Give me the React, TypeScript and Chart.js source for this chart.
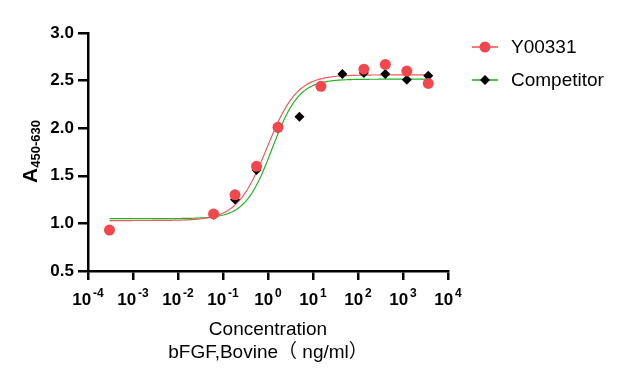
import React, { useEffect, useRef } from 'react';
import { Chart, registerables } from 'chart.js';

Chart.register(...registerables);

// ---------- data ----------
const concentrations = [0.0003, 0.0617, 0.185, 0.556, 1.67, 5, 15, 45, 135, 405, 1215, 3645];
const y00331Values: (number | null)[] = [0.93, 1.1, 1.3, 1.6, 2.01, null, 2.44, null, 2.62, 2.67, 2.6, 2.47];
const competitorValues: (number | null)[] = [null, 1.09, 1.25, 1.56, 2.0, 2.12, null, 2.57, 2.58, 2.57, 2.51, 2.55];

const seriesNames = ['Y00331', 'Competitor'];

// 4-parameter logistic fit parameters: [Y00331, Competitor]
const fitBottom = [1.03, 1.05];
const fitTop = [2.56, 2.515];
const fitEC50 = [0.95, 1.23];
const fitHill = [1.3, 1.45];
const fitRangeLog = [-3.52, 3.56];

const yTickValues = [0.5, 1.0, 1.5, 2.0, 2.5, 3.0];
const xTickExponents = [-4, -3, -2, -1, 0, 1, 2, 3, 4];
const xTitleLines = ['Concentration', 'bFGF,Bovine（ ng/ml）'];
const yTitleMain = 'A';
const yTitleSub = '450-630';

// ---------- style ----------
const FONT = '"Liberation Sans", Arial, "Noto Sans CJK SC", sans-serif';
const RED_POINT = '#f2474c';
const RED_LINE = '#f05a5a';
const GREEN_LINE = '#22b422';
const BLACK = '#000000';

function toPoints(values: (number | null)[]) {
  const out: { x: number; y: number }[] = [];
  values.forEach((v, i) => {
    if (v !== null) out.push({ x: concentrations[i], y: v });
  });
  return out;
}

function fitCurve(idx: number) {
  const pts: { x: number; y: number }[] = [];
  const n = 300;
  for (let k = 0; k <= n; k++) {
    const lx = fitRangeLog[0] + ((fitRangeLog[1] - fitRangeLog[0]) * k) / n;
    const c = Math.pow(10, lx);
    const r = Math.pow(c / fitEC50[idx], fitHill[idx]);
    const y = fitBottom[idx] + (fitTop[idx] - fitBottom[idx]) * (r / (1 + r));
    pts.push({ x: c, y });
  }
  return pts;
}

const decorPlugin = {
  id: 'decor',
  afterDraw(chart: any) {
    const ctx: CanvasRenderingContext2D = chart.ctx;
    const xs = chart.scales.x;
    const area = chart.chartArea;
    ctx.save();
    ctx.fillStyle = BLACK;

    // x tick labels 10^n
    ctx.textBaseline = 'alphabetic';
    xTickExponents.forEach((e) => {
      const px = xs.getPixelForValue(Math.pow(10, e));
      ctx.font = `bold 17px ${FONT}`;
      const base = '10';
      const w1 = ctx.measureText(base).width;
      ctx.font = `bold 12px ${FONT}`;
      const sup = String(e);
      const w2 = ctx.measureText(sup).width;
      const gap = 2;
      const total = w1 + gap + w2;
      const start = px - total / 2;
      ctx.font = `bold 17px ${FONT}`;
      ctx.textAlign = 'left';
      ctx.fillText(base, start, 305);
      ctx.font = `bold 12px ${FONT}`;
      ctx.fillText(sup, start + w1 + gap, 297);
    });

    // x title
    ctx.font = `19px ${FONT}`;
    ctx.textAlign = 'center';
    ctx.textBaseline = 'middle';
    const cx = (area.left + area.right) / 2;
    ctx.fillText(xTitleLines[0], cx, 330);
    ctx.fillText(xTitleLines[1], cx, 353);

    // y title (rotated)
    ctx.save();
    ctx.translate(37, 151.5);
    ctx.rotate(-Math.PI / 2);
    ctx.textBaseline = 'alphabetic';
    ctx.textAlign = 'left';
    ctx.font = `bold 21px ${FONT}`;
    const wa = ctx.measureText(yTitleMain).width;
    ctx.font = `bold 13px ${FONT}`;
    const ws = ctx.measureText(yTitleSub).width;
    const tot = wa + ws;
    ctx.font = `bold 21px ${FONT}`;
    ctx.fillText(yTitleMain, -tot / 2, 0);
    ctx.font = `bold 13px ${FONT}`;
    ctx.fillText(yTitleSub, -tot / 2 + wa, 3);
    ctx.restore();

    // legend
    const legendRows = [
      { y: 47, line: RED_LINE, name: seriesNames[0], marker: 'circle' },
      { y: 80, line: GREEN_LINE, name: seriesNames[1], marker: 'diamond' },
    ];
    legendRows.forEach((row) => {
      ctx.strokeStyle = row.line;
      ctx.lineWidth = 1.6;
      ctx.beginPath();
      ctx.moveTo(472, row.y);
      ctx.lineTo(498, row.y);
      ctx.stroke();
      if (row.marker === 'circle') {
        ctx.fillStyle = RED_POINT;
        ctx.beginPath();
        ctx.arc(485, row.y, 5.5, 0, Math.PI * 2);
        ctx.fill();
      } else {
        ctx.fillStyle = BLACK;
        ctx.beginPath();
        ctx.moveTo(485, row.y - 5);
        ctx.lineTo(490, row.y);
        ctx.lineTo(485, row.y + 5);
        ctx.lineTo(480, row.y);
        ctx.closePath();
        ctx.fill();
      }
      ctx.fillStyle = BLACK;
      ctx.font = `19px ${FONT}`;
      ctx.textAlign = 'left';
      ctx.textBaseline = 'middle';
      ctx.fillText(row.name, 511, row.y + 1);
    });

    ctx.restore();
  },
};

export default function App() {
  const ref = useRef<HTMLCanvasElement>(null);

  useEffect(() => {
    document.body.style.margin = '0';
    const canvas = ref.current;
    if (!canvas) return;
    const chart = new Chart(canvas, {
      type: 'scatter',
      data: {
        datasets: [
          {
            label: seriesNames[0],
            data: toPoints(y00331Values),
            pointStyle: 'circle',
            pointRadius: 5.5,
            pointHoverRadius: 5.5,
            backgroundColor: RED_POINT,
            borderWidth: 0,
            showLine: false,
            order: 0,
          },
          {
            label: seriesNames[1],
            data: toPoints(competitorValues),
            pointStyle: 'rectRot',
            pointRadius: 5,
            pointHoverRadius: 5,
            backgroundColor: BLACK,
            borderColor: BLACK,
            borderWidth: 0,
            showLine: false,
            order: 1,
          },
          {
            label: seriesNames[0] + ' fit',
            data: fitCurve(0),
            showLine: true,
            pointRadius: 0,
            borderColor: RED_LINE,
            borderWidth: 1.2,
            fill: false,
            order: 2,
          },
          {
            label: seriesNames[1] + ' fit',
            data: fitCurve(1),
            showLine: true,
            pointRadius: 0,
            borderColor: GREEN_LINE,
            borderWidth: 1.2,
            fill: false,
            order: 3,
          },
        ],
      },
      options: {
        animation: false,
        responsive: false,
        maintainAspectRatio: false,
        devicePixelRatio: 1,
        layout: { padding: { top: 33, right: 179, left: 0, bottom: 0 } },
        plugins: {
          legend: { display: false },
          tooltip: { enabled: false },
          title: { display: false },
        },
        scales: {
          x: {
            type: 'logarithmic',
            min: 1e-4,
            max: 1e4,
            afterBuildTicks: (scale: any) => {
              scale.ticks = xTickExponents.map((e) => ({ value: Math.pow(10, e) }));
            },
            afterFit: (scale: any) => {
              scale.height = 112;
            },
            ticks: { display: false },
            grid: {
              drawOnChartArea: false,
              drawTicks: true,
              tickLength: 9,
              color: BLACK,
              tickColor: BLACK,
              tickWidth: 2.5,
              lineWidth: 2.5,
            },
            border: { display: true, color: BLACK, width: 2.5 },
          },
          y: {
            type: 'linear',
            min: 0.5,
            max: 3.0,
            afterBuildTicks: (scale: any) => {
              scale.ticks = yTickValues.map((v) => ({ value: v }));
            },
            afterFit: (scale: any) => {
              scale.width = 88;
            },
            ticks: {
              padding: 4,
              color: BLACK,
              font: { family: FONT, size: 17, weight: 'bold' },
              callback: (v: any) => Number(v).toFixed(1),
            },
            grid: {
              drawOnChartArea: false,
              drawTicks: true,
              tickLength: 10,
              color: BLACK,
              tickColor: BLACK,
              tickWidth: 2.5,
              lineWidth: 2.5,
            },
            border: { display: true, color: BLACK, width: 2.5 },
          },
        },
      } as any,
      plugins: [decorPlugin],
    });
    return () => chart.destroy();
  }, []);

  return (
    <div style={{ width: 627, height: 383, position: 'relative', background: '#fff' }}>
      <canvas ref={ref} width={627} height={383} style={{ width: 627, height: 383, display: 'block' }} />
    </div>
  );
}
